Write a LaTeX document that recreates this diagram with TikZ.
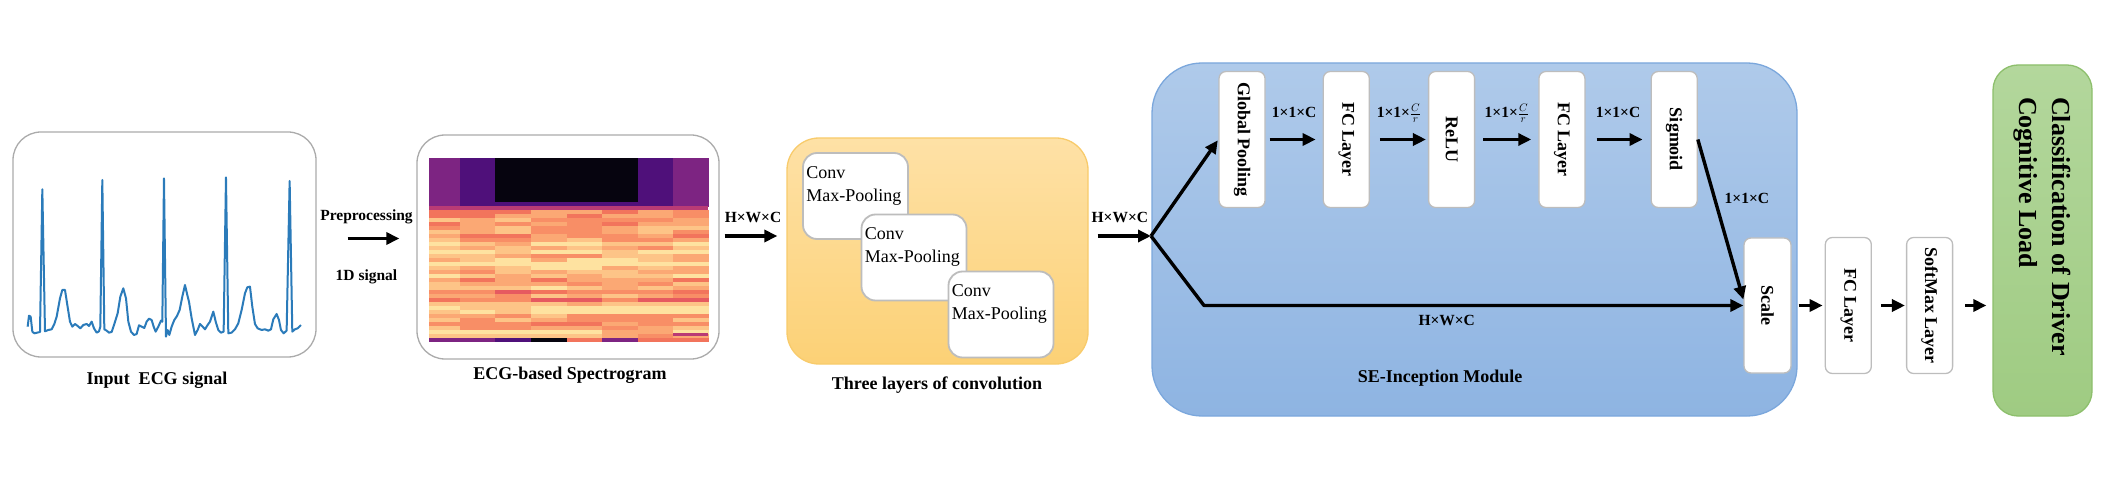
\documentclass[tikz,border=0pt]{standalone}
\usepackage{fontspec}
\setmainfont{Liberation Serif}
\usepackage{graphicx}
\usepackage{tikz}
\usetikzlibrary{arrows.meta,positioning}

\definecolor{ecgblue}{HTML}{2B7BBA}
\definecolor{panelgray}{HTML}{ABABAB}
\definecolor{boxgray}{HTML}{BDBDBD}
\definecolor{convtop}{HTML}{FEE1A6}
\definecolor{convbot}{HTML}{FCD176}
\definecolor{convedge}{HTML}{F8CB6B}
\definecolor{setop}{HTML}{AFCAEA}
\definecolor{sebot}{HTML}{8EB4E2}
\definecolor{seedge}{HTML}{7BA7DC}
\definecolor{outtop}{HTML}{B3D79C}
\definecolor{outbot}{HTML}{9FCB82}
\definecolor{outedge}{HTML}{8DBF6C}
% spectrogram colours
\definecolor{spec0}{HTML}{E65A60}
\definecolor{spec1}{HTML}{F2745C}
\definecolor{spec2}{HTML}{F88E66}
\definecolor{spec3}{HTML}{FBA874}
\definecolor{spec4}{HTML}{FDC487}
\definecolor{spec5}{HTML}{FEE2A0}
\definecolor{specP}{HTML}{7D2482}
\definecolor{specD}{HTML}{4F107A}
\definecolor{specK}{HTML}{06040F}
\definecolor{specM}{HTML}{B93B75}

\newcommand{\vtext}[1]{\rotatebox{-90}{#1}}

\begin{document}
\begin{tikzpicture}[->,>={Triangle[length=13pt,width=12pt]},x=1pt,y=-1pt,
                      panel node/.style={draw=panelgray,line width=1.3pt,rounded corners=28pt,fill=white},
                      conv node/.style={draw=boxgray,line width=1.8pt,fill=white,rounded corners=14pt,
                                        minimum width=105pt,minimum height=86pt},
                      conv text/.style={anchor=north west,align=left,inner xsep=4pt,inner ysep=14pt,
                                        font=\fontsize{18}{23}\selectfont},
                      layer node/.style={draw=boxgray,line width=1.3pt,fill=white,rounded corners=7pt,
                                         minimum width=46pt,minimum height=136pt,inner sep=0pt,
                                         font=\fontsize{18}{20}\selectfont\bfseries},
                      cap node/.style={font=\fontsize{18}{20}\selectfont\bfseries},
                      dim node/.style={anchor=base,font=\fontsize{15.5}{18}\selectfont\bfseries},
                      flow/.style={line width=3.4pt}]

    \useasboundingbox (0,0) rectangle (2124,494);

    % input signal
    \node[panel node,minimum width=303pt,minimum height=225pt] (ecg) at (164.5,244.5) {};
    \begin{scope}[xshift=15pt,yshift=-170pt,x=0.3333pt,y=-0.3333pt]
      \draw[-,ecgblue,line width=2pt,line join=round] plot coordinates {
        (38,470) (42,437) (47,440) (52,485) (58,490) (75,486) (82,58) (90,484) (100,480)
        (110,478) (118,462) (125,440) (135,385) (142,360) (150,360) (157,405) (165,455)
        (172,470) (180,462) (188,468) (196,475) (205,465) (215,462) (222,468) (230,455)
        (237,475) (245,488) (252,484) (256,470) (262,30) (268,478) (275,482) (282,488)
        (290,486) (298,462) (308,430) (316,380) (325,355) (333,385) (340,455) (348,485)
        (357,495) (365,492) (372,466) (380,470) (388,474) (395,455) (402,446) (410,450)
        (416,470) (422,485) (430,470) (438,452) (442,455) (447,25) (453,500) (458,480)
        (463,495) (470,470) (478,450) (486,438) (494,420) (502,380) (510,345) (517,375)
        (522,395) (530,445) (540,495) (548,480) (555,462) (563,470) (570,478) (578,465)
        (585,455) (595,425) (603,458) (610,480) (618,488) (626,485) (633,22) (640,490)
        (650,488) (660,478) (670,460) (680,420) (690,370) (697,352) (705,350) (712,410)
        (720,462) (728,475) (740,480) (750,478) (760,482) (768,478) (775,448) (785,432)
        (792,450) (798,480) (806,490) (815,482) (824,33) (832,485) (840,478) (848,475)
        (858,465)};
    \end{scope}
    \node[cap node] (ecgcap) at (157,380) {Input~ ECG signal};

    % spectrogram
    \node[panel node,minimum width=302pt,minimum height=224pt] (spec) at (568,247) {};
    \foreach \xa/\xb/\tc in {429/460/specP,460/495/specD,495/531/specK,531/567/specK,
                             567/602/specK,602/638/specK,638/673/specD,673/708/specP}
      \fill[fill=\tc] (\xa,158) rectangle (\xb+0.5,207);
    \fill[fill=specD] (495,202) rectangle (638,207);
    \fill[fill=specM] (429,206) rectangle (708,210.5);
    \pgfmathsetseed{12}
    \foreach \b [count=\r from 0] in {2,2,3,2,3,3,2,3,4,3,4,3,4,5,4,3,4,2,3,4,1,3,1,3,5,5,3,3,2,3,4,3}
      \foreach \xa/\xb in {429/460,460/495,495/531,531/567,567/602,602/638,638/673,673/708}
      {
        \pgfmathtruncatemacro\k{max(1,min(5,\b+random(0,2)-1))}
        \ifnum\b=1 \pgfmathtruncatemacro\k{random(0,2)}\fi
        \fill[fill=spec\k] (\xa,210+4*\r) rectangle (\xb+0.5,214.5+4*\r);
      }
    \foreach \xa/\xb/\tc in {429/460/specP,460/495/specP,495/531/specD,531/567/specK,
                             567/602/spec1,602/638/specP,638/673/spec1,673/708/spec1}
      \fill[fill=\tc] (\xa,338) rectangle (\xb+0.5,342);
    \fill[fill=specM] (673,333) rectangle (708,336);
    \node[cap node] (speccap) at (570,375) {ECG-based Spectrogram};

    % convolution block
    \node[draw=convedge,line width=1.3pt,rounded corners=32pt,top color=convtop,bottom color=convbot,
          minimum width=301pt,minimum height=226pt] (conv) at (937.5,251) {};
    \node[conv node] (convA) at (855.5,196) {};
    \node[conv text] (tA) at (convA.north west) {Conv\\Max-Pooling};
    \node[conv node] (convB) at (914,257.5) {};
    \node[conv text] (tB) at (convB.north west) {Conv\\Max-Pooling};
    \node[conv node] (convC) at (1001,314.5) {};
    \node[conv text] (tC) at (convC.north west) {Conv\\Max-Pooling};
    \node[cap node] (convcap) at (937,385) {Three layers of convolution};

    % SE-Inception module
    \node[draw=seedge,line width=1.3pt,rounded corners=50pt,top color=setop,bottom color=sebot,
          minimum width=645pt,minimum height=353pt] (se) at (1474.5,239.5) {};
    \node[layer node] (gp) at (1242,139.5) {\vtext{Global Pooling}};
    \node[layer node,right=57pt of gp] (fc1) {\vtext{FC Layer}};
    \node[layer node,right=58pt of fc1] (relu) {\vtext{ReLU}};
    \node[layer node,right=63pt of relu] (fc2) {\vtext{FC Layer}};
    \node[layer node,right=65pt of fc2] (sig) {\vtext{Sigmoid}};
    \node[layer node,minimum width=47pt,minimum height=135pt] (scale) at (1767.5,305.5) {\vtext{Scale}};
    \node[cap node] (secap) at (1440,378) {SE-Inception Module};

    % classifier
    \node[layer node,right=33pt of scale] (fc3) {\vtext{FC Layer}};
    \node[layer node,right=34pt of fc3] (soft) {\vtext{SoftMax Layer}};
    \node[draw=outedge,line width=1.3pt,rounded corners=25pt,top color=outtop,bottom color=outbot,
          minimum width=99pt,minimum height=351pt] (out) at (2042.5,240.5) {};
    \node[rotate=-90,anchor=north west,align=left,inner sep=0pt,
          font=\fontsize{26}{33}\selectfont\bfseries] (outtxt) at (2071,97)
          {Classification of Driver\\Cognitive Load};

    % connectors
    \coordinate (pre) at ([yshift=6pt]ecg.east);
    \coordinate (sc) at ([yshift=11pt]spec.east);
    \coordinate (cs) at ([yshift=15pt]conv.east);
    \coordinate (split) at (1151,236);
    \coordinate (bend) at (1204,305.5);

    \draw[flow,shorten <=31pt,shorten >=17pt] (pre) -- (pre -| spec.west)
      node[dim node,midway,yshift=17.5pt] (prelbl) {Preprocessing}
      node[dim node,midway,yshift=-41.5pt] (siglbl) {1D signal};
    \draw[flow,shorten <=5pt,shorten >=9pt] (sc) -- (sc -| conv.west)
      node[dim node,midway,yshift=13.5pt] (hwcA) {H×W×C};
    \draw[flow,shorten <=9pt] (cs) -- (split)
      node[dim node,midway,yshift=13.5pt] (hwcB) {H×W×C};
    \draw[flow,shorten >=1pt] (split) -- (gp.west);
    \draw[flow,line join=round] (split) -- (bend) -- (scale.west)
      node[dim node,pos=0.45,yshift=-19.5pt] (hwcC) {H×W×C};
    \draw[flow] (sig.east) -- ([yshift=6pt]scale.west)
      node[pos=0.37,anchor=west,xshift=5pt,font=\fontsize{15.5}{18}\selectfont\bfseries] (dimS) {1×1×C};

    \path[flow,every node/.style={dim node}]
      (gp) edge [shorten <=4pt,shorten >=7pt] node [midway,yshift=22pt] {1×1×C} (fc1)
      (fc1) edge [shorten <=10pt,shorten >=2pt] node [midway,yshift=22pt] {1×1×$\frac{C}{r}$} (relu)
      (relu) edge [shorten <=8pt,shorten >=7pt] node [midway,yshift=22pt] {1×1×$\frac{C}{r}$} (fc2)
      (fc2) edge [shorten <=11pt,shorten >=8pt] node [midway,yshift=22pt] {1×1×C} (sig)
    ;
    \path[flow]
      (scale) edge [shorten <=7pt,shorten >=2pt] (fc3)
      (fc3) edge [shorten <=9pt,shorten >=1pt] (soft)
      (soft.east) edge [shorten <=12pt,shorten >=6pt] (soft.east -| out.west)
    ;

  \end{tikzpicture}
\end{document}
